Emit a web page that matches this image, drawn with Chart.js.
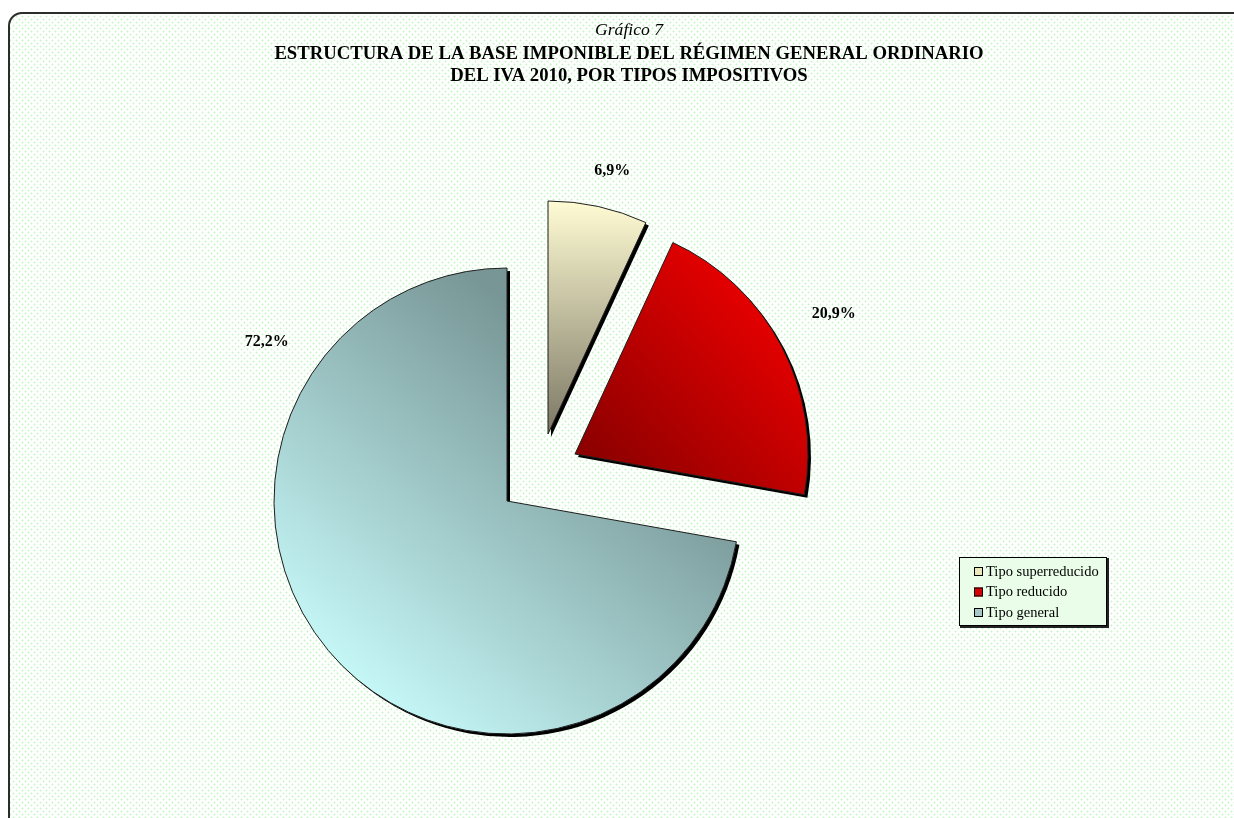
<!DOCTYPE html>
<html>
<head>
<meta charset="utf-8">
<script src="https://cdn.jsdelivr.net/npm/chart.js@4/dist/chart.umd.min.js"></script>
<style>
html,body{margin:0;padding:0;background:#fff;}
#wrap{width:1234px;height:818px;position:relative;overflow:hidden;}
canvas{display:block;}
</style>
</head>
<body>
<div id="wrap"><canvas id="c" width="1234" height="818"></canvas></div>
<script>
// ---- data ----
const categories = ['Tipo superreducido', 'Tipo reducido', 'Tipo general'];
const shares = [6.9, 20.9, 72.2];
const shareLabels = ['6,9%', '20,9%', '72,2%'];
const chartKicker = 'Gráfico 7';
const chartTitleLines = [
  'ESTRUCTURA DE LA BASE IMPONIBLE DEL RÉGIMEN GENERAL ORDINARIO',
  'DEL IVA 2010, POR TIPOS IMPOSITIVOS'
];

// ---- styling ----
const SERIF = '"Liberation Serif", "Times New Roman", serif';
const explodeOffsets = [[41, -67], [68, -47], [0, 0]];       // slice displacement (px)
const labelPlacement = [[13.7, 1.163], [61.6, 1.263], [303.5, 1.236]]; // clock angle (deg), radius factor
const gradientStops = [
  ['#fffcd4', '#7c7764'],
  ['#f60000', '#860000'],
  ['#c8fafa', '#789696']
];
const legendSwatch = ['#ece8bc', '#d80000', '#a6c6c8'];

function pieGeom(chart) {
  const a = chart.chartArea;
  return {cx: (a.left + a.right) / 2, cy: (a.top + a.bottom) / 2, r: Math.min(a.right - a.left, a.bottom - a.top) / 2};
}

function sliceFill(ctx) {
  const chart = ctx.chart;
  if (!chart.chartArea) return '#ccc';
  const i = ctx.dataIndex;
  const g = pieGeom(chart);
  const cx = g.cx + explodeOffsets[i][0], cy = g.cy + explodeOffsets[i][1], r = g.r;
  const c = chart.ctx;
  let grad;
  if (i === 0) grad = c.createLinearGradient(cx, cy - r, cx, cy);
  else if (i === 1) grad = c.createLinearGradient(cx + r * 0.95, cy - r * 0.75, cx + r * 0.05, cy + r * 0.1);
  else grad = c.createLinearGradient(cx - r * 0.75, cy + r * 0.75, cx + r * 0.35, cy - r * 0.55);
  grad.addColorStop(0, gradientStops[i][0]);
  grad.addColorStop(1, gradientStops[i][1]);
  return grad;
}

function makePattern() {
  const p = document.createElement('canvas');
  p.width = 6; p.height = 6;
  const x = p.getContext('2d');
  x.fillStyle = '#ffffff'; x.fillRect(0, 0, 6, 6);
  const dot = (px, py) => {
    x.fillStyle = '#e4fbe4';
    x.fillRect(px - 1, py, 3, 1); x.fillRect(px, py - 1, 1, 3);
    x.fillStyle = '#c8f5c8';
    x.fillRect(px, py, 1, 1);
  };
  dot(1, 1); dot(4, 4);
  return p;
}

const backgroundPlugin = {
  id: 'frameBg',
  beforeDraw(chart) {
    const c = chart.ctx;
    c.save();
    c.fillStyle = '#fff';
    c.fillRect(0, 0, chart.width, chart.height);
    const x0 = 9, y0 = 13, x1 = chart.width + 20, y1 = chart.height + 20, rad = 13;
    c.beginPath();
    c.moveTo(x0 + rad, y0);
    c.lineTo(x1, y0);
    c.lineTo(x1, y1);
    c.lineTo(x0, y1);
    c.lineTo(x0, y0 + rad);
    c.arcTo(x0, y0, x0 + rad, y0, rad);
    c.closePath();
    c.fillStyle = c.createPattern(makePattern(), 'repeat');
    c.fill();
    c.lineWidth = 2;
    c.strokeStyle = '#2c2c2c';
    c.stroke();
    c.restore();
  }
};

const explodePlugin = {
  id: 'explode',
  afterDatasetsUpdate(chart) {
    const meta = chart.getDatasetMeta(0);
    meta.data.forEach((el, i) => {
      el.x += explodeOffsets[i][0];
      el.y += explodeOffsets[i][1];
    });
  },
  beforeDatasetsDraw(chart) {
    const c = chart.ctx;
    const meta = chart.getDatasetMeta(0);
    c.save();
    c.fillStyle = '#000';
    meta.data.forEach(el => {
      c.beginPath();
      c.moveTo(el.x + 3, el.y + 3);
      c.arc(el.x + 3, el.y + 3, el.outerRadius, el.startAngle, el.endAngle);
      c.closePath();
      c.fill();
    });
    c.restore();
  },
  afterDatasetsDraw(chart) {
    const c = chart.ctx;
    const meta = chart.getDatasetMeta(0);
    c.save();
    c.font = 'bold 16px ' + SERIF;
    c.fillStyle = '#000';
    c.textAlign = 'center';
    c.textBaseline = 'middle';
    meta.data.forEach((el, i) => {
      const ang = (labelPlacement[i][0] - 90) * Math.PI / 180;
      const d = el.outerRadius * labelPlacement[i][1];
      c.fillText(shareLabels[i], el.x + Math.cos(ang) * d, el.y + Math.sin(ang) * d);
    });
    c.restore();
  }
};

const textPlugin = {
  id: 'texts',
  afterDraw(chart) {
    const c = chart.ctx;
    c.save();
    c.fillStyle = '#000';
    c.textAlign = 'center';
    c.textBaseline = 'middle';
    const cx = 629;
    c.font = 'italic 17.6px ' + SERIF;
    c.fillText(chartKicker, cx, 30);
    c.font = 'bold 18.7px ' + SERIF;
    chartTitleLines.forEach((t, k) => c.fillText(t, cx, 54 + k * 22));

    // legend
    const lx = 959, ly = 557, lw = 148, lh = 69;
    c.fillStyle = '#222';
    c.fillRect(lx + 1, ly + 1, lw + 1, lh + 1);
    c.fillStyle = '#e9fde9';
    c.fillRect(lx, ly, lw, lh);
    c.strokeStyle = '#000';
    c.lineWidth = 1;
    c.strokeRect(lx + 0.5, ly + 0.5, lw - 1, lh - 1);
    c.font = '14.5px ' + SERIF;
    c.textAlign = 'left';
    categories.forEach((name, i) => {
      const yy = ly + 14 + i * 20.5;
      c.fillStyle = legendSwatch[i];
      c.fillRect(lx + 15, yy - 4, 9, 9);
      c.strokeStyle = '#000';
      c.strokeRect(lx + 15.5, yy - 3.5, 8, 8);
      c.fillStyle = '#000';
      c.fillText(name, lx + 27, yy + 1);
    });
    c.restore();
  }
};

new Chart(document.getElementById('c'), {
  type: 'pie',
  data: {
    labels: categories,
    datasets: [{
      data: shares,
      backgroundColor: sliceFill,
      borderColor: '#1e1e1e',
      borderWidth: 1,
      radius: 233
    }]
  },
  options: {
    responsive: false,
    animation: false,
    devicePixelRatio: 1,
    layout: {padding: {left: 274, top: 268, right: 494, bottom: 84}},
    plugins: {
      legend: {display: false},
      title: {display: false},
      tooltip: {enabled: false}
    }
  },
  plugins: [backgroundPlugin, explodePlugin, textPlugin]
});
</script>
</body>
</html>
